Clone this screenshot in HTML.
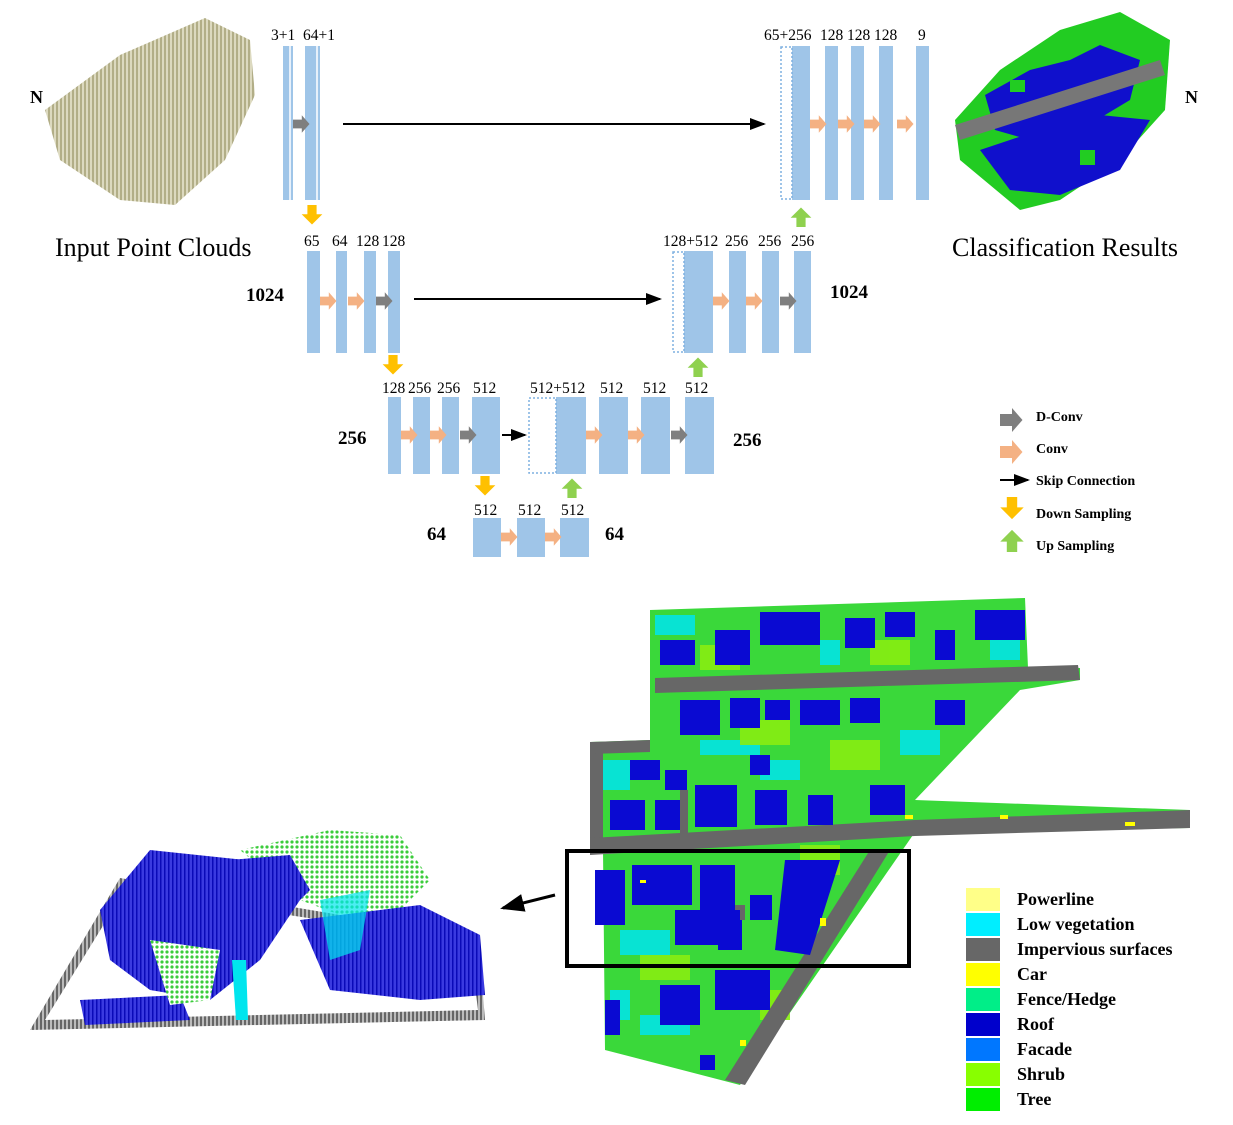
<!DOCTYPE html>
<html><head><meta charset="utf-8"><style>
html,body{margin:0;padding:0;background:#fff;}
svg{display:block;font-family:"Liberation Serif",serif;}
</style></head><body>
<svg width="1233" height="1125" viewBox="0 0 1233 1125">
<defs>
<pattern id="olive" width="4" height="4" patternUnits="userSpaceOnUse"><rect width="4" height="4" fill="#d8d5b8"/><rect width="2" height="4" fill="#a9a57a"/></pattern>
<pattern id="bstripe" width="4" height="4" patternUnits="userSpaceOnUse"><rect width="4" height="4" fill="#3a3ae0"/><rect width="1.5" height="4" fill="#0a0ab8"/></pattern>
<pattern id="gdots" width="5" height="5" patternUnits="userSpaceOnUse"><rect width="5" height="5" fill="#fff"/><circle cx="2" cy="2" r="1.6" fill="#3bcc3b"/></pattern>
<pattern id="gray" width="4" height="4" patternUnits="userSpaceOnUse"><rect width="4" height="4" fill="#bbb"/><rect width="2" height="4" fill="#666"/></pattern>
<marker id="ah" markerWidth="8" markerHeight="8" refX="7" refY="4" orient="auto"><path d="M0,1 L8,4 L0,7 z" fill="#000"/></marker>
</defs>

<g>
<polygon points="45,110 120,55 205,18 250,40 255,95 225,160 175,205 120,200 60,160" fill="url(#olive)" opacity="0.9"/>
</g>
<text x="30" y="103" font-size="18" font-weight="bold">N</text>
<text x="55" y="256" font-size="26">Input Point Clouds</text>

<g>
<polygon points="955,120 1000,70 1060,30 1120,12 1170,40 1165,110 1120,160 1060,200 1020,210 960,160" fill="#22cc22"/>
<polygon points="985,95 1030,70 1070,60 1100,45 1140,60 1130,100 1080,130 1030,140 995,130" fill="#1010cc"/>
<polygon points="980,150 1040,130 1100,115 1150,120 1120,170 1060,195 1010,190" fill="#1010cc"/>
<polygon points="955,125 1160,60 1165,75 960,140" fill="#777"/>
<rect x="1010" y="80" width="15" height="12" fill="#22cc22"/><rect x="1080" y="150" width="15" height="15" fill="#22cc22"/>
</g>
<text x="1185" y="103" font-size="18" font-weight="bold">N</text>
<text x="952" y="256" font-size="26">Classification Results</text>

<g fill="#9fc5e8">
<rect x="283" y="46" width="10" height="154"/><rect x="305" y="46" width="15" height="154"/>
<rect x="792" y="46" width="18" height="154"/><rect x="825" y="46" width="13" height="154"/><rect x="851" y="46" width="13" height="154"/><rect x="879" y="46" width="14" height="154"/><rect x="916" y="46" width="13" height="154"/>
<rect x="307" y="251" width="13" height="102"/><rect x="336" y="251" width="11" height="102"/><rect x="364" y="251" width="12" height="102"/><rect x="388" y="251" width="12" height="102"/>
<rect x="684" y="251" width="29" height="102"/><rect x="729" y="251" width="17" height="102"/><rect x="762" y="251" width="17" height="102"/><rect x="794" y="251" width="17" height="102"/>
<rect x="388" y="397" width="13" height="77"/><rect x="413" y="397" width="17" height="77"/><rect x="442" y="397" width="17" height="77"/><rect x="472" y="397" width="28" height="77"/>
<rect x="556" y="397" width="30" height="77"/><rect x="599" y="397" width="29" height="77"/><rect x="641" y="397" width="29" height="77"/><rect x="685" y="397" width="29" height="77"/>
<rect x="473" y="518" width="28" height="39"/><rect x="517" y="518" width="28" height="39"/><rect x="560" y="518" width="29" height="39"/>
</g>
<g stroke="#fff" stroke-width="1.5"><line x1="290" y1="46" x2="290" y2="200"/><line x1="317" y1="46" x2="317" y2="200"/></g>
<g fill="none" stroke="#7fb0e0" stroke-width="1.5" stroke-dasharray="2,2">
<rect x="781" y="47" width="11" height="152"/><rect x="673" y="252" width="11" height="100"/><rect x="529" y="398" width="27" height="75"/>
</g>

<g stroke="#000" stroke-width="2" marker-end="url(#ah)">
<line x1="343" y1="124" x2="764" y2="124"/><line x1="414" y1="299" x2="660" y2="299"/><line x1="502" y1="435" x2="525" y2="435"/>
</g>

<g id="arrows"></g>

<g font-size="15.5" fill="#000">
<text x="271" y="40">3+1</text><text x="303" y="40">64+1</text>
<text x="764" y="40">65+256</text><text x="820" y="40">128</text><text x="847" y="40">128</text><text x="874" y="40">128</text><text x="918" y="40">9</text>
<text x="304" y="246">65</text><text x="332" y="246">64</text><text x="356" y="246">128</text><text x="382" y="246">128</text>
<text x="663" y="246">128+512</text><text x="725" y="246">256</text><text x="758" y="246">256</text><text x="791" y="246">256</text>
<text x="382" y="393">128</text><text x="408" y="393">256</text><text x="437" y="393">256</text><text x="473" y="393">512</text>
<text x="530" y="393">512+512</text><text x="600" y="393">512</text><text x="643" y="393">512</text><text x="685" y="393">512</text>
<text x="474" y="515">512</text><text x="518" y="515">512</text><text x="561" y="515">512</text>
</g>
<g font-size="19" font-weight="bold">
<text x="246" y="301">1024</text><text x="830" y="298">1024</text>
<text x="338" y="444">256</text><text x="733" y="446">256</text>
<text x="427" y="540">64</text><text x="605" y="540">64</text>
</g>

<g font-size="14" font-weight="bold">
<g id="oplegend"></g>
<text x="1036" y="421">D-Conv</text><text x="1036" y="453">Conv</text><text x="1036" y="485">Skip Connection</text><text x="1036" y="518">Down Sampling</text><text x="1036" y="550">Up Sampling</text>
<line x1="1000" y1="480" x2="1028" y2="480" stroke="#000" stroke-width="2" marker-end="url(#ah)"/>
</g>

<g>
<polygon points="30,1030 485,1020 480,958 400,925 120,878" fill="url(#gray)"/>
<polygon points="45,1020 478,1010 472,962 400,932 125,890" fill="#fff"/>
<polygon points="240,850 330,830 400,835 430,880 380,930 300,900" fill="url(#gdots)"/>
<polygon points="150,850 245,860 300,900 260,960 210,1000 150,990 110,960 100,910" fill="url(#bstripe)"/>
<polygon points="230,860 290,855 310,890 280,920 240,910" fill="url(#bstripe)"/>
<polygon points="300,920 420,905 480,935 485,995 420,1000 330,990" fill="url(#bstripe)"/>
<polygon points="80,1000 180,995 190,1020 85,1025" fill="url(#bstripe)"/>
<polygon points="150,940 220,950 210,1000 170,1005" fill="url(#gdots)"/>
<polygon points="320,900 370,890 360,950 330,960" fill="#00e5ee" opacity="0.7"/>
<polygon points="232,960 246,960 248,1020 236,1020" fill="#00e5ee"/>
</g>
<line x1="555" y1="895" x2="503" y2="908" stroke="#000" stroke-width="3" marker-end="url(#ah)"/>

<g>
<polygon points="650,610 1025,598 1028,668 1080,668 1080,680 1020,690 915,800 1190,810 1190,828 915,832 740,1085 605,1050 603,850 590,840 590,742 650,740" fill="#3ad83a"/>
<g fill="#00e5ee" opacity="0.85">
<rect x="655" y="615" width="40" height="20"/><rect x="990" y="640" width="30" height="20"/><rect x="820" y="640" width="20" height="25"/>
<rect x="600" y="760" width="30" height="30"/><rect x="700" y="740" width="60" height="15"/><rect x="900" y="730" width="40" height="25"/>
<rect x="620" y="930" width="50" height="25"/><rect x="610" y="990" width="20" height="30"/><rect x="640" y="1015" width="50" height="20"/><rect x="760" y="760" width="40" height="20"/>
</g>
<g fill="#88ee11" opacity="0.9">
<rect x="700" y="645" width="40" height="25"/><rect x="870" y="640" width="40" height="25"/><rect x="740" y="720" width="50" height="25"/><rect x="830" y="740" width="50" height="30"/>
<rect x="640" y="955" width="50" height="25"/><rect x="760" y="990" width="30" height="30"/><rect x="800" y="845" width="40" height="30"/>
</g>
<g fill="#676767">
<polygon points="655,678 1078,665 1080,680 655,693"/>
<rect x="590" y="742" width="13" height="110"/><polygon points="590,742 650,740 650,752 590,754"/>
<polygon points="590,838 915,820 1190,810 1190,828 915,836 590,855"/>
<polygon points="870,850 890,850 745,1085 725,1080"/>
<rect x="680" y="790" width="8" height="50"/><polygon points="700,905 745,905 745,920 700,920"/>
</g>
<g fill="#0a0ad2">
<rect x="660" y="640" width="35" height="25"/><rect x="715" y="630" width="35" height="35"/><rect x="760" y="612" width="60" height="33"/><rect x="845" y="618" width="30" height="30"/><rect x="885" y="612" width="30" height="25"/><rect x="935" y="630" width="20" height="30"/><rect x="975" y="610" width="50" height="30"/>
<rect x="680" y="700" width="40" height="35"/><rect x="730" y="698" width="30" height="30"/><rect x="800" y="700" width="40" height="25"/><rect x="850" y="698" width="30" height="25"/><rect x="935" y="700" width="30" height="25"/><rect x="765" y="700" width="25" height="20"/>
<rect x="610" y="800" width="35" height="30"/><rect x="655" y="800" width="25" height="30"/><rect x="695" y="785" width="42" height="42"/><rect x="755" y="790" width="32" height="35"/><rect x="808" y="795" width="25" height="30"/><rect x="870" y="785" width="35" height="30"/>
<rect x="630" y="760" width="30" height="20"/><rect x="665" y="770" width="22" height="20"/><rect x="750" y="755" width="20" height="20"/>
<rect x="595" y="870" width="30" height="55"/><rect x="632" y="865" width="60" height="40"/><rect x="700" y="865" width="35" height="45"/><rect x="675" y="910" width="65" height="35"/><rect x="750" y="895" width="22" height="25"/>
<polygon points="785,860 840,860 810,955 775,950"/><rect x="718" y="920" width="24" height="30"/>
<rect x="715" y="970" width="55" height="40"/><rect x="660" y="985" width="40" height="40"/><rect x="605" y="1000" width="15" height="35"/><rect x="700" y="1055" width="15" height="15"/>
</g>
<g fill="#ffff00">
<rect x="640" y="880" width="6" height="3"/><rect x="905" y="815" width="8" height="4"/><rect x="1000" y="815" width="8" height="4"/><rect x="1125" y="822" width="10" height="4"/><rect x="820" y="918" width="6" height="8"/><rect x="740" y="1040" width="6" height="6"/>
</g>
</g>
<rect x="567" y="851" width="342" height="115" fill="none" stroke="#000" stroke-width="4"/>

<g id="classlegend" font-size="18" font-weight="bold"></g>
</svg>
<script>
const ns="http://www.w3.org/2000/svg";
const classNames=["Powerline","Low vegetation","Impervious surfaces","Car","Fence/Hedge","Roof","Facade","Shrub","Tree"];
const classColors=["#ffff88","#00eeff","#676767","#ffff00","#00ee88","#0000cc","#0077ff","#88ff00","#00ee00"];
const cl=document.getElementById("classlegend");
classNames.forEach((n,i)=>{
  const y=888+i*25;
  const r=document.createElementNS(ns,"rect");
  r.setAttribute("x",966);r.setAttribute("y",y);r.setAttribute("width",34);r.setAttribute("height",23);r.setAttribute("fill",classColors[i]);
  
  
  cl.appendChild(r);
  const t=document.createElementNS(ns,"text");
  t.setAttribute("x",1017);t.setAttribute("y",y+17);t.textContent=n;
  
  
  cl.appendChild(t);
});
function harrow(g,x,y,c,s){
  const p=document.createElementNS(ns,"path");
  p.setAttribute("d",`M${x},${y-4*s} h${8*s} v${-4*s} l${7*s},${8*s} l${-7*s},${8*s} v${-4*s} h${-8*s} z`);
  p.setAttribute("fill",c);
  
  
  g.appendChild(p);
}
function varrow(g,x,y,c,dir,s){
  const p=document.createElementNS(ns,"path");
  const d=dir;
  p.setAttribute("d",`M${x-4*s},${y} v${d*8*s} h${-5*s} l${9*s},${d*9*s} l${9*s},${-d*9*s} h${-5*s} v${-d*8*s} z`);
  p.setAttribute("fill",c);
  
  
  g.appendChild(p);
}
const g=document.getElementById("arrows");
const O="#f4b183",G="#7f7f7f",Y="#ffc000",GR="#8fd14f";
harrow(g,293,124,G,1.1);
[[810,124],[838,124],[864,124],[897,124]].forEach(a=>harrow(g,a[0],a[1],O,1.1));
harrow(g,320,301,O,1.1);harrow(g,348,301,O,1.1);harrow(g,376,301,G,1.1);
harrow(g,713,301,O,1.1);harrow(g,746,301,O,1.1);harrow(g,780,301,G,1.1);
harrow(g,401,435,O,1.1);harrow(g,430,435,O,1.1);harrow(g,460,435,G,1.1);
harrow(g,586,435,O,1.1);harrow(g,628,435,O,1.1);harrow(g,671,435,G,1.1);
harrow(g,501,537,O,1.1);harrow(g,545,537,O,1.1);
varrow(g,312,205,Y,1,1.15);varrow(g,393,355,Y,1,1.15);varrow(g,485,476,Y,1,1.15);
varrow(g,801,227,GR,-1,1.15);varrow(g,698,377,GR,-1,1.15);varrow(g,572,498,GR,-1,1.15);
const lg=document.getElementById("oplegend");
harrow(lg,1000,420,G,1.5);harrow(lg,1000,452,O,1.5);
varrow(lg,1012,497,Y,1,1.3);varrow(lg,1012,552,GR,-1,1.3);
</script>
</body></html>
